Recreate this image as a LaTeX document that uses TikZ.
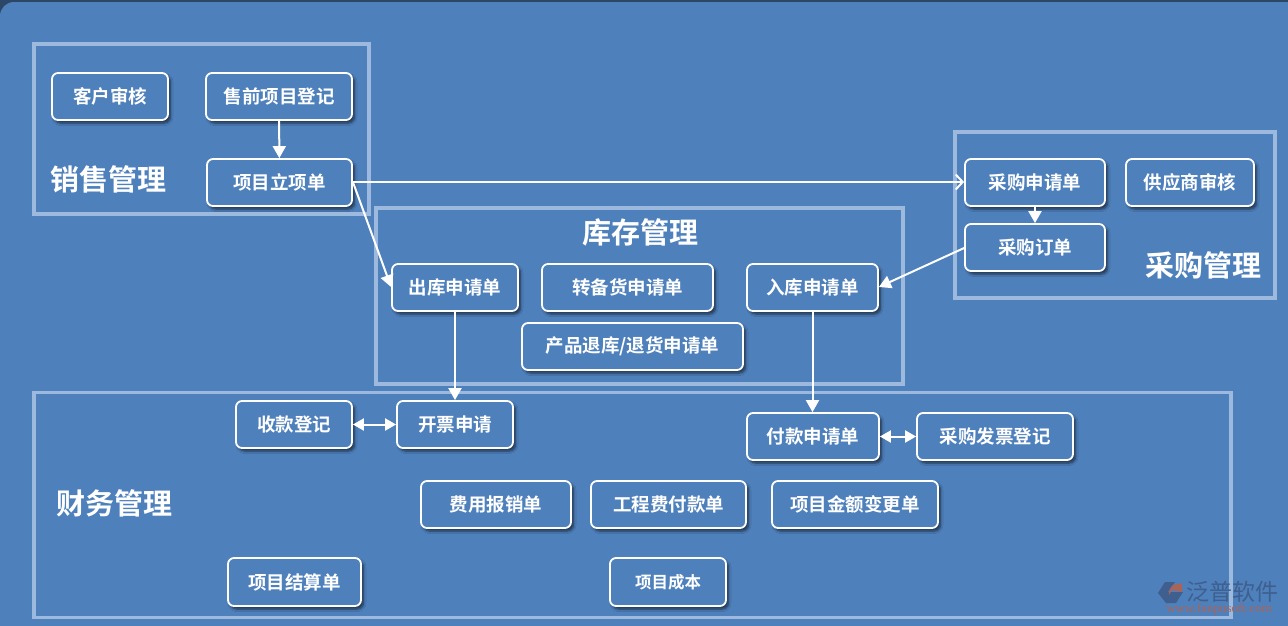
\documentclass[tikz,border=0pt]{standalone}
\usepackage{fontspec}
\newfontfamily\cjk{Noto Sans CJK SC}[BoldFont={* Bold}]
\newfontfamily\urlfont{Liberation Serif}
\usetikzlibrary{arrows.meta,shadows.blur}
\definecolor{panel}{HTML}{4E80BC}
\definecolor{frameedge}{HTML}{9DB9DD}
\definecolor{logoblue}{HTML}{3F5F8F}
\definecolor{logored}{HTML}{A9645A}
\tikzset{
  x=1pt,y=-1pt,
  group/.style={draw=frameedge,line width=3.5pt,fill=none},
  item/.style={draw=white,line width=1.8pt,rounded corners=6pt,fill=panel,text=white,
    font=\cjk\bfseries\fontsize{18.5}{20}\selectfont,inner sep=0pt,
    blur shadow={shadow xshift=2.5pt,shadow yshift=-3pt,shadow blur steps=6,shadow opacity=60,shadow blur radius=2.5pt}},
  title/.style={text=white,font=\cjk\bfseries\fontsize{29}{32}\selectfont,inner sep=0pt},
  conn/.style={draw=white,line width=2pt,-{Triangle[length=12pt,width=13pt]}},
  both/.style={draw=white,line width=2pt,{Triangle[length=11pt,width=12pt]}-{Triangle[length=11pt,width=12pt]}},
  openconn/.style={draw=white,line width=2pt,-{Straight Barb[length=7pt,width=15pt,line width=2pt]}}
}
\newcommand{\itembox}[6]{\node[item,minimum width=#4pt-#2pt,minimum height=#5pt-#3pt] (#1) at ({(#2+#4)/2},{(#3+#5)/2}) {\raisebox{1.8pt}{#6}};}
\begin{document}
\begin{tikzpicture}
\useasboundingbox (0,0) rectangle (1288,625);
\fill[panel!55!black] (0,0) rectangle (1288,625);
\fill[panel,rounded corners=14pt] (0,2) rectangle (1300,640);
\node[group,minimum width=335pt,minimum height=170pt,inner sep=0pt] (sales) at (201.5,129) {};
\node[group,minimum width=527pt,minimum height=176pt,inner sep=0pt] (stock) at (639.5,296) {};
\node[group,minimum width=320pt,minimum height=166pt,inner sep=0pt] (buy) at (1115,215) {};
\node[group,minimum width=1197pt,minimum height=225pt,inner sep=0pt] (fin) at (632.5,505) {};
\node[title] (t1) at (108,179) {销售管理};
\node[title] (t2) at (640,232) {库存管理};
\node[title] (t3) at (1203,265) {采购管理};
\node[title] (t4) at (114,503) {财务管理};
\itembox{a1}{52}{73}{168}{120}{客户审核}
\itembox{a2}{206}{73}{352}{120}{售前项目登记}
\itembox{a3}{207}{159}{352}{206}{项目立项单}
\itembox{b1}{965}{159}{1105}{206}{采购申请单}
\itembox{b2}{1126}{159}{1254}{206}{供应商审核}
\itembox{b3}{965}{224}{1105}{271}{采购订单}
\itembox{c1}{392}{264}{518}{311}{出库申请单}
\itembox{c2}{542}{264}{713}{311}{转备货申请单}
\itembox{c3}{747}{264}{878}{311}{入库申请单}
\itembox{c4}{522}{323}{743}{370}{产品退库/退货申请单}
\itembox{d1}{236}{401}{352}{448}{收款登记}
\itembox{d2}{397}{401}{513}{448}{开票申请}
\itembox{d3}{747}{413}{879}{460}{付款申请单}
\itembox{d4}{917}{413}{1073}{460}{采购发票登记}
\itembox{d5}{421}{481}{571}{528}{费用报销单}
\itembox{d6}{591}{481}{746}{528}{工程费付款单}
\itembox{d7}{772}{481}{938}{528}{项目金额变更单}
\itembox{d8}{228}{558}{361}{606}{项目结算单}
\itembox{d9}{610}{558}{726}{606}{\fontsize{16.5}{18}\selectfont 项目成本}
\draw[conn] (a2) -- (a3);
\draw[conn] (b1) -- (b3);
\draw[openconn] (a3.east |- 0,182) -- (b1.west |- 0,182);
\draw[conn] (a3.east |- 0,182) -- (c1.west |- 0,287);
\draw[conn] (b3.west |- 0,248) -- (c3.east |- 0,287);
\draw[conn] (c1.south) -- (c1.south |- d2.north);
\draw[conn] (c3.south) -- (c3.south |- d3.north);
\draw[both] (d1) -- (d2);
\draw[both] (d3) -- (d4);
\fill[logoblue] (1158,593) -- (1165,582) -- (1175,582) -- (1168,592) -- (1183,592) -- (1176,603) -- (1166,603) -- cycle;
\fill[logored] (1169,595) .. controls (1169,586) and (1173,583) .. (1182,584) -- (1182,592) -- (1172,590) -- cycle;
\node[inner sep=0pt,text=logoblue,font=\cjk\fontsize{23}{25}\selectfont] (logo) at (1232,592) {泛普软件};
\node[inner sep=0pt,text=logored,font=\urlfont\fontsize{13}{14}\selectfont] (url) at (1219,609) {www.fanpusoft.com};
\end{tikzpicture}
\end{document}
